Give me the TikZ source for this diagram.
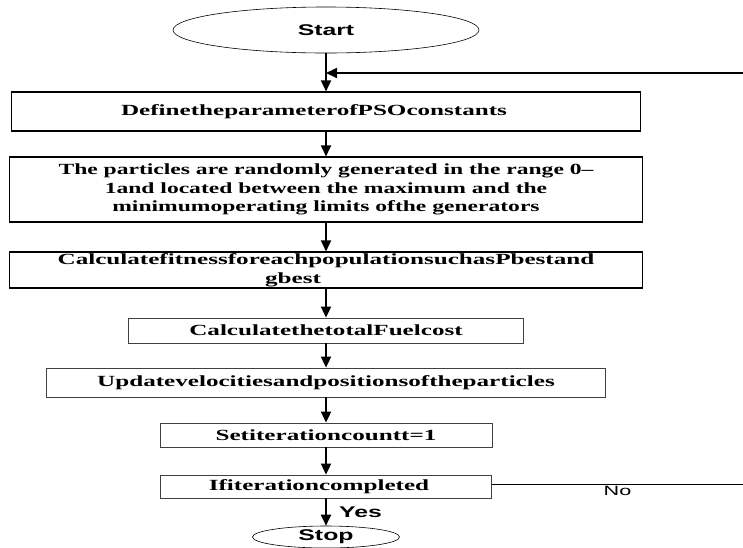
\documentclass[tikz,border=0pt]{standalone}
\usepackage{fontspec}
\usetikzlibrary{shapes.geometric,arrows.meta}
\newfontfamily\boxfont{Liberation Serif}[FakeStretch=1.62]
\newfontfamily\widefont{Liberation Serif}[FakeStretch=1.52]
\newfontfamily\ovalfont{Liberation Sans}[FakeStretch=1.6]

\tikzset{
  procbox/.style={draw,line width=1.1pt,inner sep=0pt,align=center,
    font=\boxfont\bfseries\fontsize{15.5}{18.5}\selectfont},
  widebox/.style={procbox,font=\widefont\bfseries\fontsize{15.5}{18.5}\selectfont},
  thinbox/.style={procbox,draw=black!75,line width=0.8pt},
  terminal/.style={ellipse,draw,line width=0.6pt,inner sep=0pt,
    font=\ovalfont\bfseries\fontsize{15.5}{18}\selectfont},
  flow/.style={line width=1.8pt,-{Triangle[width=10pt,length=11pt]}}
}

\begin{document}
\begin{tikzpicture}[x=1pt,y=-1pt]
\useasboundingbox (0,0) rectangle (743,547);

\node[terminal,minimum width=306pt,minimum height=46pt] (start) at (326,30) {Start};
\node[procbox,minimum width=629pt,minimum height=39pt] (params) at (326,111.5) {DefinetheparameterofPSOconstants\hspace*{24pt}};
\node[widebox,minimum width=633pt,minimum height=65pt] (init) at (326,189.5)
  {The particles are randomly generated in the range 0–\\1and located between the maximum and the\\minimumoperating limits ofthe generators};
\node[procbox,minimum width=633pt,minimum height=36pt] (fitness) at (326,270)
  {CalculatefitnessforeachpopulationsuchasPbestand\\gbest\hspace*{66pt}};
\node[thinbox,minimum width=395pt,minimum height=25pt] (cost) at (326,330.5) {CalculatethetotalFuelcost};
\node[thinbox,minimum width=559pt,minimum height=29pt] (update) at (326,382.5) {Updatevelocitiesandpositionsoftheparticles};
\node[thinbox,minimum width=332pt,minimum height=24pt] (count) at (326,435) {Setiterationcountt=1};
\node[thinbox,minimum width=331pt,minimum height=23pt] (check) at (326,486.5) {Ifiterationcompleted\hspace*{14pt}};
\node[terminal,minimum width=147pt,minimum height=22pt] (stop) at (326,537) {Stop};

\coordinate (back) at (743,73);
\coordinate (noend) at (743,484);

\draw[flow] (start) -- (params);
\draw[flow] (back) -- (back -| start.south);
\draw[flow] (params) -- (init);
\draw[flow] (init) -- (fitness);
\draw[flow] (fitness) -- (cost);
\draw[flow] (cost) -- (update);
\draw[flow] (update) -- (count);
\draw[flow] (count) -- (check);
\draw[flow] (check) -- node[right,xshift=9pt,font=\ovalfont\bfseries\fontsize{15.5}{18}\selectfont] (yes) {Yes} (stop);
\draw[line width=0.9pt] (check.east |- noend) -- node[below,inner sep=2pt,font=\ovalfont\fontsize{13.5}{15}\selectfont] (no) {No} (noend);

\end{tikzpicture}
\end{document}
